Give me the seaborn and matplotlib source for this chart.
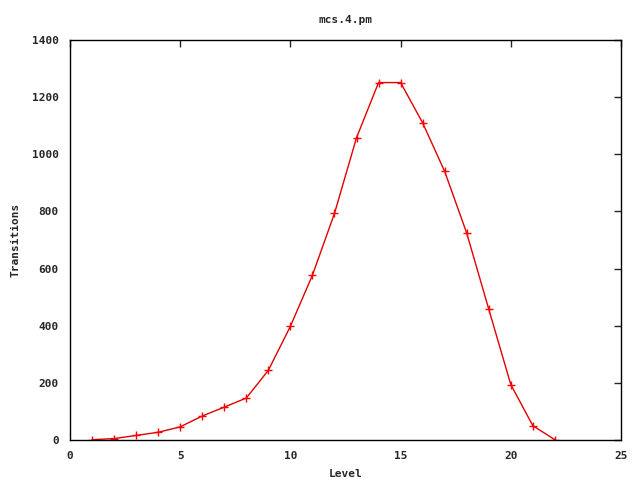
import matplotlib
matplotlib.use("Agg")
import matplotlib.pyplot as plt
import pandas as pd
import seaborn as sns

# values
levels = list(range(1, 23))
transitions = [1, 5, 16, 27, 46, 84, 115, 147, 244, 398, 577, 793, 1058, 1251,
               1251, 1110, 940, 724, 458, 194, 50, 1]

x_ticks = [0, 5, 10, 15, 20, 25]
y_ticks = [0, 200, 400, 600, 800, 1000, 1200, 1400]

sns.set_style("white")
plt.rcParams["font.family"] = ["DejaVu Sans Mono", "DejaVu Sans"]
plt.rcParams["font.weight"] = "bold"
plt.rcParams["font.size"] = 8

df = pd.DataFrame({"Level": levels, "Transitions": transitions})

fig = plt.figure(figsize=(6.4, 4.8), dpi=100)
ax = fig.add_axes([70 / 640, 40 / 480, 551 / 640, 400 / 480])

sns.lineplot(data=df, x="Level", y="Transitions", ax=ax, color="#e00000",
             linewidth=1.0, marker="+", markersize=6, markeredgewidth=1.0,
             markeredgecolor="#ff0000")

ax.set_xlim(0, 25)
ax.set_ylim(0, 1400)
ax.set_xticks(x_ticks)
ax.set_yticks(y_ticks)
ax.tick_params(direction="in", top=True, right=True, length=5, width=1,
               labelsize=8, pad=8)
for side in ax.spines.values():
    side.set_color("black")
    side.set_linewidth(1)

ax.set_title("mcs.4.pm", fontsize=8, fontweight="bold", pad=12)
ax.set_xlabel("Level", fontsize=8, fontweight="bold", labelpad=6)
ax.set_ylabel("Transitions", fontsize=8, fontweight="bold", labelpad=8)

fig.savefig("out.png", dpi=100)
